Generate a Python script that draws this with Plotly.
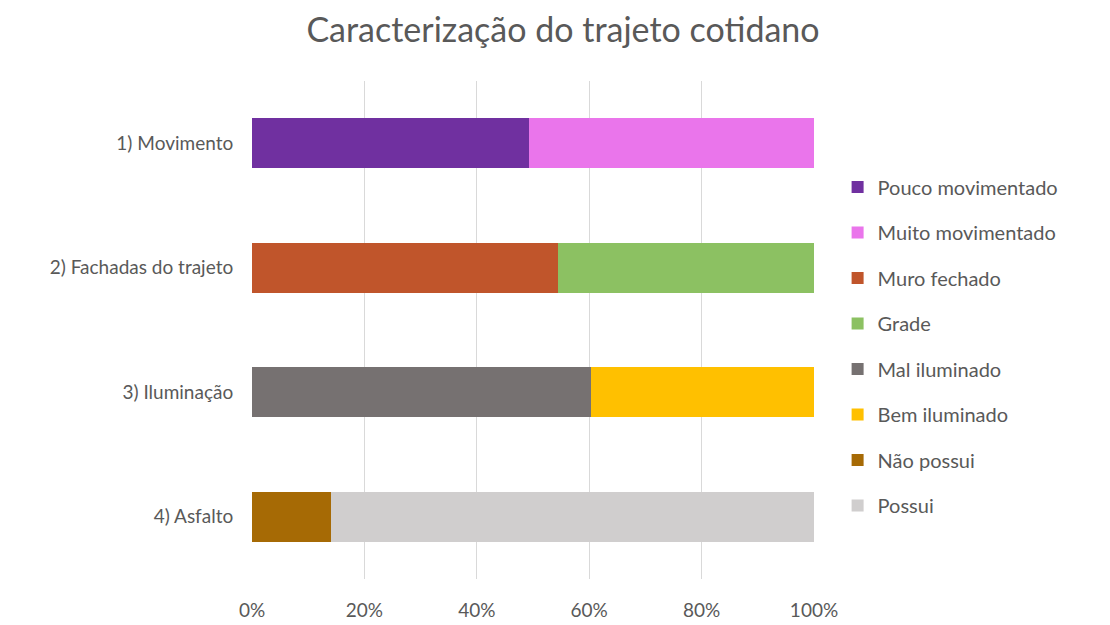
import plotly.graph_objects as go

categories = ["1) Movimento", "2) Fachadas do trajeto", "3) Iluminação", "4) Asfalto"]
series_names = ["Pouco movimentado", "Muito movimentado", "Muro fechado", "Grade",
                "Mal iluminado", "Bem iluminado", "Não possui", "Possui"]
series_category = [0, 0, 1, 1, 2, 2, 3, 3]
series_values = [49.3, 50.7, 54.5, 45.5, 60.4, 39.6, 14.1, 85.9]
series_colors = ["#7030A0", "#EA75EB", "#C0552B", "#8CC162",
                 "#767171", "#FFC000", "#A66A05", "#D0CECE"]
x_ticks = [0, 20, 40, 60, 80, 100]

FONT = "Lato"
GRAY = "#595959"

fig = go.Figure()
for i, name in enumerate(series_names):
    xs = [series_values[i] if j == series_category[i] else None for j in range(len(categories))]
    fig.add_trace(go.Bar(
        y=categories, x=xs, name=name, orientation="h",
        marker=dict(color=series_colors[i], line=dict(width=0)),
        legendgroup=name,
    ))

fig.update_layout(
    width=1110, height=625,
    barmode="stack", bargap=0.6,
    plot_bgcolor="white", paper_bgcolor="white",
    margin=dict(l=244, r=304, t=73, b=49),
    font=dict(family=FONT, color=GRAY, size=19),
    title=dict(text="Caracterização do trajeto cotidano", x=0.5, xanchor="center",
               y=0.965, yanchor="middle", font=dict(size=34, color=GRAY, family=FONT)),
    xaxis=dict(range=[0, 100], tickvals=x_ticks, ticktext=[f"{v}%" for v in x_ticks],
               showgrid=True, gridcolor="#D9D9D9", gridwidth=1, zeroline=False,
               ticks="outside", ticklen=14, tickcolor="rgba(0,0,0,0)",
               tickfont=dict(size=19, color=GRAY), fixedrange=True),
    yaxis=dict(autorange="reversed", showgrid=False, zeroline=False,
               ticks="outside", ticklen=14, tickcolor="rgba(0,0,0,0)",
               tickfont=dict(size=19, color=GRAY)),
    legend=dict(x=1.042, xanchor="left", y=0.467, yanchor="middle",
                traceorder="grouped", tracegroupgap=16.5,
                font=dict(size=20, color=GRAY)),
)

fig.write_html("out.html")
